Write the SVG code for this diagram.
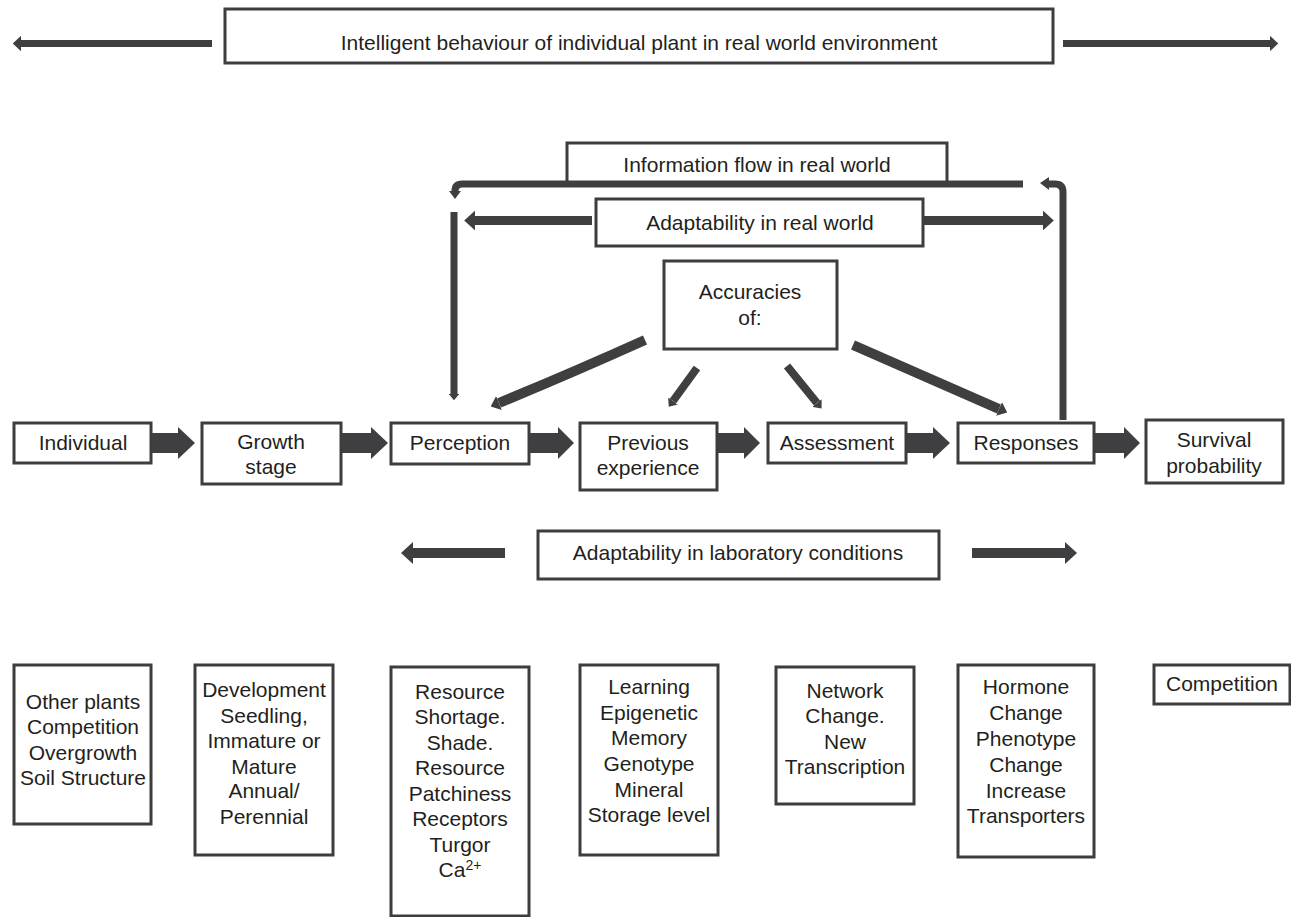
<svg xmlns="http://www.w3.org/2000/svg" width="1291" height="917" viewBox="0 0 1291 917">
<defs>
<style>
.box{fill:#fff;stroke:#3d3d3f;stroke-width:3}
.t{font-family:"Liberation Sans",Arial,sans-serif;font-size:21px;fill:#231f20;text-anchor:middle}
.ln{stroke:#3f3f41;fill:none}
.blk{fill:#3f3f41}
</style>
<marker id="ah" markerUnits="strokeWidth" markerWidth="1.2" markerHeight="2.2" viewBox="0 0 12 22" refX="0" refY="11" orient="auto">
<path d="M0,0 L12,11 L0,22 z" fill="#3f3f41"/>
</marker>
<marker id="ahs" markerUnits="strokeWidth" markerWidth="0.9" markerHeight="1.5" viewBox="0 0 9 15" refX="0" refY="7.5" orient="auto">
<path d="M0,0 L9,7.5 L0,15 z" fill="#3f3f41"/>
</marker>
</defs>

<g id="title">
<rect class="box" x="225" y="9" width="828" height="54"/>
<text class="t" x="639" y="50">Intelligent behaviour of individual plant in real world environment</text>
</g>
<g id="info-flow">
<rect class="box" x="567" y="143" width="380" height="40"/>
<text class="t" x="757" y="172">Information flow in real world</text>
</g>
<g id="adapt-real">
<rect class="box" x="596" y="199" width="327" height="47"/>
<text class="t" x="760" y="230">Adaptability in real world</text>
</g>
<g id="accuracies">
<rect class="box" x="664" y="261" width="173" height="88"/>
<text class="t" x="750" y="299">Accuracies</text>
<text class="t" x="750" y="325">of:</text>
</g>
<g id="adapt-lab">
<rect class="box" x="538" y="531" width="401" height="48"/>
<text class="t" x="738" y="560">Adaptability in laboratory conditions</text>
</g>

<g id="individual">
<rect class="box" x="14" y="423" width="137" height="40"/>
<text class="t" x="83" y="450">Individual</text>
</g>
<g id="growth-stage">
<rect class="box" x="202" y="423" width="139" height="61"/>
<text class="t" x="271" y="449">Growth</text>
<text class="t" x="271" y="474">stage</text>
</g>
<g id="perception">
<rect class="box" x="391" y="423" width="138" height="41"/>
<text class="t" x="460" y="450">Perception</text>
</g>
<g id="previous-experience">
<rect class="box" x="580" y="423" width="137" height="67"/>
<text class="t" x="648" y="450">Previous</text>
<text class="t" x="648" y="475">experience</text>
</g>
<g id="assessment">
<rect class="box" x="768" y="423" width="138" height="40"/>
<text class="t" x="837" y="450">Assessment</text>
</g>
<g id="responses">
<rect class="box" x="958" y="423" width="136" height="40"/>
<text class="t" x="1026" y="450">Responses</text>
</g>
<g id="survival">
<rect class="box" x="1146" y="420" width="137" height="63"/>
<text class="t" x="1214" y="447">Survival</text>
<text class="t" x="1214" y="473">probability</text>
</g>

<g id="detail-individual">
<rect class="box" x="14" y="665" width="137" height="159"/>
<text class="t" x="83" y="709">Other plants</text>
<text class="t" x="83" y="734">Competition</text>
<text class="t" x="83" y="760">Overgrowth</text>
<text class="t" x="83" y="785">Soil Structure</text>
</g>
<g id="detail-growth">
<rect class="box" x="195" y="665" width="138" height="190"/>
<text class="t" x="264" y="697">Development</text>
<text class="t" x="264" y="723">Seedling,</text>
<text class="t" x="264" y="748">Immature or</text>
<text class="t" x="264" y="774">Mature</text>
<text class="t" x="264" y="798">Annual/</text>
<text class="t" x="264" y="824">Perennial</text>
</g>
<g id="detail-perception">
<rect class="box" x="391" y="667" width="138" height="249"/>
<text class="t" x="460" y="699">Resource</text>
<text class="t" x="460" y="724">Shortage.</text>
<text class="t" x="460" y="750">Shade.</text>
<text class="t" x="460" y="775">Resource</text>
<text class="t" x="460" y="801">Patchiness</text>
<text class="t" x="460" y="826">Receptors</text>
<text class="t" x="460" y="852">Turgor</text>
<text class="t" x="460" y="877">Ca<tspan font-size="14" dy="-7">2+</tspan></text>
</g>
<g id="detail-previous">
<rect class="box" x="580" y="665" width="138" height="190"/>
<text class="t" x="649" y="694">Learning</text>
<text class="t" x="649" y="720">Epigenetic</text>
<text class="t" x="649" y="745">Memory</text>
<text class="t" x="649" y="771">Genotype</text>
<text class="t" x="649" y="797">Mineral</text>
<text class="t" x="649" y="822">Storage level</text>
</g>
<g id="detail-assessment">
<rect class="box" x="776" y="667" width="138" height="137"/>
<text class="t" x="845" y="698">Network</text>
<text class="t" x="845" y="723">Change.</text>
<text class="t" x="845" y="749">New</text>
<text class="t" x="845" y="774">Transcription</text>
</g>
<g id="detail-responses">
<rect class="box" x="958" y="665" width="136" height="192"/>
<text class="t" x="1026" y="694">Hormone</text>
<text class="t" x="1026" y="720">Change</text>
<text class="t" x="1026" y="746">Phenotype</text>
<text class="t" x="1026" y="772">Change</text>
<text class="t" x="1026" y="798">Increase</text>
<text class="t" x="1026" y="823">Transporters</text>
</g>
<g id="detail-survival">
<rect class="box" x="1154" y="665" width="136" height="39"/>
<text class="t" x="1222" y="691">Competition</text>
</g>

<g id="connectors">
<!-- top title arrows -->
<line class="ln" x1="212" y1="43.5" x2="21" y2="43.5" stroke-width="7" marker-end="url(#ah)"/>
<line class="ln" x1="1063" y1="43.5" x2="1270" y2="43.5" stroke-width="7" marker-end="url(#ah)"/>
<!-- adaptability real world arrows -->
<line class="ln" x1="592" y1="220.5" x2="475" y2="220.5" stroke-width="9" marker-end="url(#ah)"/>
<line class="ln" x1="923" y1="220.5" x2="1043" y2="220.5" stroke-width="9" marker-end="url(#ah)"/>
<!-- adaptability lab arrows -->
<line class="ln" x1="505" y1="553" x2="413" y2="553" stroke-width="10" marker-end="url(#ah)"/>
<line class="ln" x1="972" y1="553" x2="1065" y2="553" stroke-width="10" marker-end="url(#ah)"/>
<!-- info flow loop -->
<path class="ln" d="M1023,184 H462 Q455,184 455,191" stroke-width="7"/>
<polygon class="blk" points="449,191 461,191 455,199"/>
<path class="ln" d="M1063,420 V192 Q1063,184 1055,184 H1049" stroke-width="7"/>
<polygon class="blk" points="1049,177 1049,190 1040,183"/>
<!-- left vertical arrow to perception -->
<line class="ln" x1="454" y1="212" x2="454" y2="394" stroke-width="7" marker-end="url(#ahs)"/>
<!-- accuracies diagonals -->
<path class="ln" d="M645,340 Q574,372 499,403" stroke-width="10" marker-end="url(#ahs)"/>
<line class="ln" x1="697" y1="368" x2="673" y2="401" stroke-width="8" marker-end="url(#ahs)"/>
<line class="ln" x1="787" y1="366" x2="817" y2="403" stroke-width="8" marker-end="url(#ahs)"/>
<path class="ln" d="M853,345 Q928,378 999,409" stroke-width="10" marker-end="url(#ahs)"/>
<!-- main row block arrows -->
<polygon class="blk" points="152,433 178,433 178,427 195,443 178,459 178,453 152,453"/>
<polygon class="blk" points="342,433 371,433 371,427 388,443 371,459 371,453 342,453"/>
<polygon class="blk" points="530,433 558,433 558,427 574,443 558,459 558,453 530,453"/>
<polygon class="blk" points="718,433 744,433 744,427 760,443 744,459 744,453 718,453"/>
<polygon class="blk" points="907,433 933,433 933,427 950,443 933,459 933,453 907,453"/>
<polygon class="blk" points="1095,433 1124,433 1124,427 1140,443 1124,459 1124,453 1095,453"/>
</g>
</svg>
